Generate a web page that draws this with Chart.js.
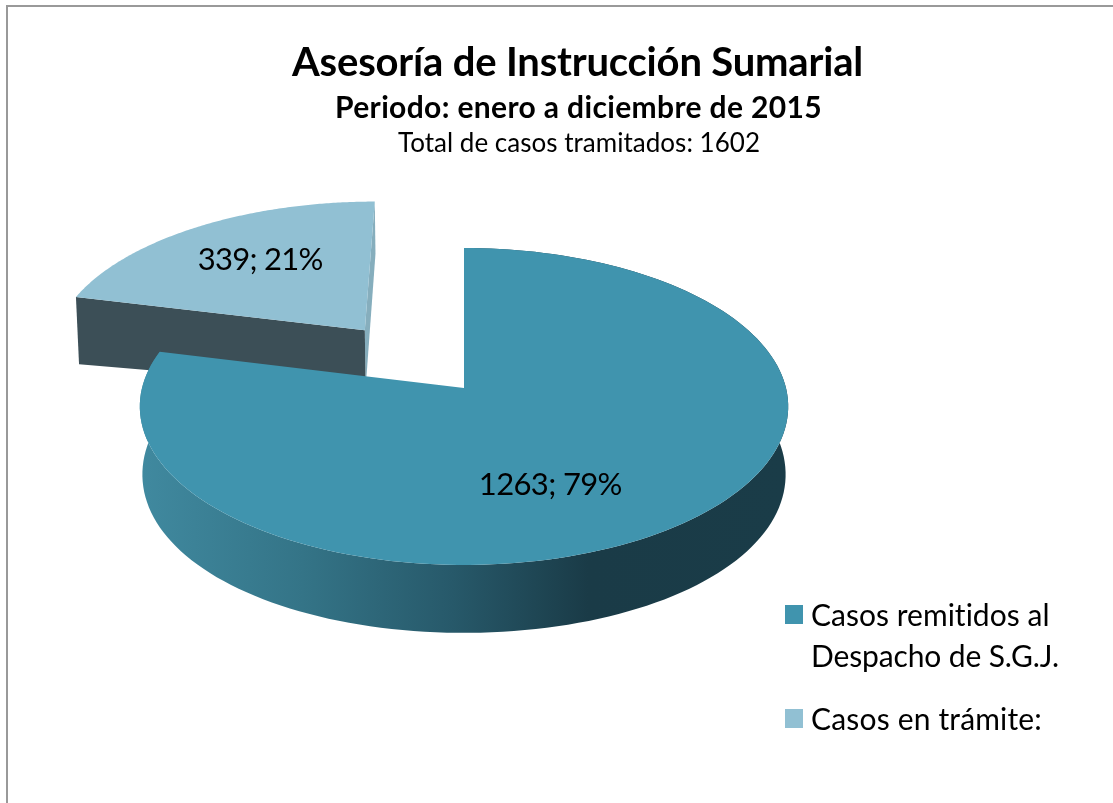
<!DOCTYPE html>
<html lang="es"><head><meta charset="utf-8">
<style>html,body{margin:0;padding:0;background:#fff}#w{position:relative;width:1113px;height:803px}canvas{display:block}</style>
<script src="https://cdn.jsdelivr.net/npm/chart.js@4/dist/chart.umd.min.js"></script>
</head><body><div id="w"><canvas id="c" width="1113" height="803"></canvas></div>
<script>
const categories = ["Casos remitidos al Despacho de S.G.J.", "Casos en trámite:"];
const legendLines = [["Casos remitidos al", "Despacho de S.G.J."], ["Casos en trámite:"]];
const values = [1263, 339];
const titleLines = ["Asesoría de Instrucción Sumarial", "Periodo: enero a diciembre de 2015", "Total de casos tramitados: 1602"];

const topColors = ["#4094ae", "#91c0d3"];
const FONT = "Lato, 'Open Sans', sans-serif";
const G = {B: 322, A: 156.3, k: 0.1167, D: 60, side: 0.12, shrink: 0.008, explode: 0.49, explodeX: 1.065};

function P(el, u, v, z) {
  const w = 1 - G.k * v;
  return [el.x + 1 + G.B * u / w * (1 - G.shrink * z), el.y + (G.A * v + G.D * z * (1 + G.side * u * u)) / w];
}
function arcPts(el, ou, ov, a0, a1, z) {
  const pts = [], n = 160;
  for (let i = 0; i <= n; i++) {
    const a = a0 + (a1 - a0) * i / n;
    pts.push(P(el, ou + Math.cos(a), ov + Math.sin(a), z));
  }
  return pts;
}
function poly(ctx, pts, fill) {
  ctx.beginPath();
  pts.forEach((p, i) => i ? ctx.lineTo(p[0], p[1]) : ctx.moveTo(p[0], p[1]));
  ctx.closePath();
  ctx.fillStyle = fill;
  ctx.fill();
}
function fitText(ctx, s, x, y, font, width) {
  ctx.font = font;
  ctx.fillStyle = "#000";
  ctx.textBaseline = "alphabetic";
  ctx.textAlign = "left";
  ctx.letterSpacing = "0px";
  const m = ctx.measureText(s).width;
  ctx.letterSpacing = ((width - m) / s.length).toFixed(3) + "px";
  ctx.fillText(s, x, y);
  ctx.letterSpacing = "0px";
}
const pie3d = {
  id: "pie3d",
  beforeDatasetDraw(chart) {
    const ctx = chart.ctx, arcs = chart.getDatasetMeta(0).data;
    ctx.save();
    // exploded slice first, it lies behind the large one
    const order = [1, 0];
    order.forEach(i => {
      const el = arcs[i];
      const {startAngle: a0, endAngle: a1} = el.getProps(["startAngle", "endAngle"], false);
      const mid = (a0 + a1) / 2, e = el.options.offset ? G.explode : 0;
      const ou = Math.cos(mid) * e * G.explodeX, ov = Math.sin(mid) * e;
      const top = arcPts(el, ou, ov, a0, a1, 0), bot = arcPts(el, ou, ov, a0, a1, 1);
      if (i === 0) {
        const g = ctx.createLinearGradient(141, 0, 789, 0);
        g.addColorStop(0, "#40899f");
        g.addColorStop(0.25, "#347487");
        g.addColorStop(0.48, "#27596a");
        g.addColorStop(0.69, "#1a3b47");
        g.addColorStop(1, "#1a3c48");
        poly(ctx, top.concat(bot.slice().reverse()), g);
      } else {
        const v = P(el, ou, ov, 0), vb = P(el, ou, ov, 1);
        poly(ctx, [v, vb, bot[bot.length - 1], top[top.length - 1]], "#86aebd");
        poly(ctx, [top[0], v, vb, bot[0]], "#3c4f57");
      }
      poly(ctx, top.concat([P(el, ou, ov, 0)]), el.options.backgroundColor);
    });
    ctx.restore();
    return false;
  },
  afterDatasetsDraw(chart) {
    const ctx = chart.ctx, arcs = chart.getDatasetMeta(0).data;
    ctx.save();
    // frame
    ctx.fillStyle = "#999";
    ctx.fillRect(6, 5, 1107, 2);
    ctx.fillRect(6, 5, 2, 798);
    // titles
    fitText(ctx, titleLines[0], 292, 76, "bold 40px " + FONT, 571);
    fitText(ctx, titleLines[1], 335, 118, "bold 30px " + FONT, 487);
    fitText(ctx, titleLines[2], 398, 152, "26px " + FONT, 362);
    // data labels
    const total = values.reduce((a, b) => a + b, 0);
    const labelPos = [[0.25, 0.575], [-0.70, -0.91]];
    const labelW = [143, 125];
    arcs.forEach((el, i) => {
      const s = values[i] + "; " + Math.round(values[i] / total * 100) + "%";
      const p = P(el, labelPos[i][0], labelPos[i][1], 0);
      fitText(ctx, s, p[0] - labelW[i] / 2, p[1] + 11, "31px " + FONT, labelW[i]);
    });
    // legend
    const rows = [[605, [626, 667], [239, 248]], [709, [730], [231]]];
    rows.forEach((r, i) => {
      ctx.fillStyle = topColors[i];
      ctx.fillRect(785, r[0], 18, 19);
      legendLines[i].forEach((t, j) => fitText(ctx, t, 811, r[1][j], "30px " + FONT, r[2][j]));
    });
    ctx.restore();
  }
};
new Chart(document.getElementById("c"), {
  type: "pie",
  data: {labels: categories, datasets: [{data: values, backgroundColor: topColors, borderWidth: 0, offset: [0, 60]}]},
  options: {
    responsive: false, animation: false, rotation: 0,
    layout: {padding: {left: 0, right: 187, top: 0, bottom: 27}},
    plugins: {legend: {display: false}, title: {display: false}, tooltip: {enabled: false}}
  },
  plugins: [pie3d]
});
</script></body></html>
